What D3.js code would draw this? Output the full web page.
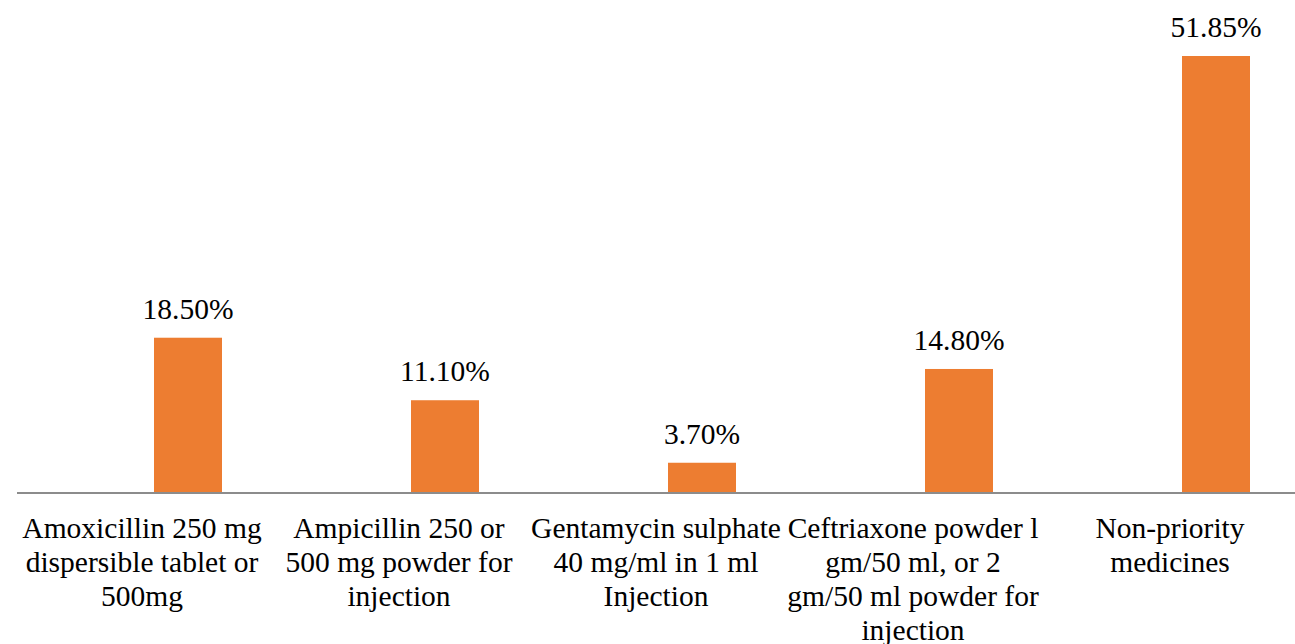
<!DOCTYPE html>
<html>
<head>
<meta charset="utf-8">
<script src="https://cdn.jsdelivr.net/npm/d3@7"></script>
<style>
  body { margin: 0; background: #fff; }
</style>
</head>
<body>
<div id="chart"></div>
<script>
// data
var categories = [
  "Amoxicillin 250 mg\ndispersible tablet or\n500mg",
  "Ampicillin 250 or\n500 mg powder for\ninjection",
  "Gentamycin sulphate\n40 mg/ml in 1 ml\nInjection",
  "Ceftriaxone powder l\ngm/50 ml, or 2\ngm/50 ml powder for\ninjection",
  "Non-priority\nmedicines"
];
var values = [18.50, 11.10, 3.70, 14.80, 51.85];
var valueLabels = ["18.50%", "11.10%", "3.70%", "14.80%", "51.85%"];

var serif = "'Times New Roman', 'Liberation Serif', Times, 'DejaVu Serif', serif";

function barChart(){
	var width = 1295, height = 644;

	var svg = d3.select("#chart")
		.append("svg")
		.attr("width", width)
		.attr("height", height)
		.attr("font-family", serif);

	// scales
	var x = d3.scaleBand().domain(categories).range([13.5, 1298.5]);
	var y = d3.scaleLinear().domain([0, 51.85]).range([494, 56]);
	var barW = 68, barShift = 46;  // bars sit right of the label centre

	// bars
	svg.selectAll("rect")
		.data(values)
		.enter()
		.append("rect")
		.attr("x", function(d, i){ return x(categories[i]) + x.bandwidth()/2 + barShift - barW/2; })
		.attr("y", function(d){ return y(d); })
		.attr("width", barW)
		.attr("height", function(d){ return y(0) - y(d); })
		.style("fill", "#ED7D31");

	// value labels
	svg.selectAll(".val")
		.data(values)
		.enter()
		.append("text")
		.attr("class", "val")
		.attr("x", function(d, i){ return x(categories[i]) + x.bandwidth()/2 + barShift; })
		.attr("y", function(d){ return y(d) - 19; })
		.attr("text-anchor", "middle")
		.attr("font-family", serif)
		.style("font-size", "29.5px")
		.text(function(d, i){ return valueLabels[i]; });

	// x axis
	var axis = svg.append("g")
		.attr("transform", "translate(0," + y(0) + ")")
		.call(d3.axisBottom(x).tickSize(0).tickPadding(0))
		.attr("font-family", serif)
		.attr("font-size", "29.5px");
	axis.select(".domain").remove();
	axis.append("line")
		.attr("x1", 17).attr("x2", width)
		.attr("y1", -1).attr("y2", -1)
		.attr("stroke", "#8c8c8c")
		.attr("stroke-width", 2);

	axis.selectAll(".tick text").each(function(d){
		var t = d3.select(this).text("").attr("y", 0).attr("dy", null);
		d.split("\n").forEach(function(line, j){
			t.append("tspan")
				.attr("x", 0)
				.attr("y", 44 + j*34)
				.text(line);
		});
	})
	.attr("fill", "#000");
}

barChart();
</script>
</body>
</html>
